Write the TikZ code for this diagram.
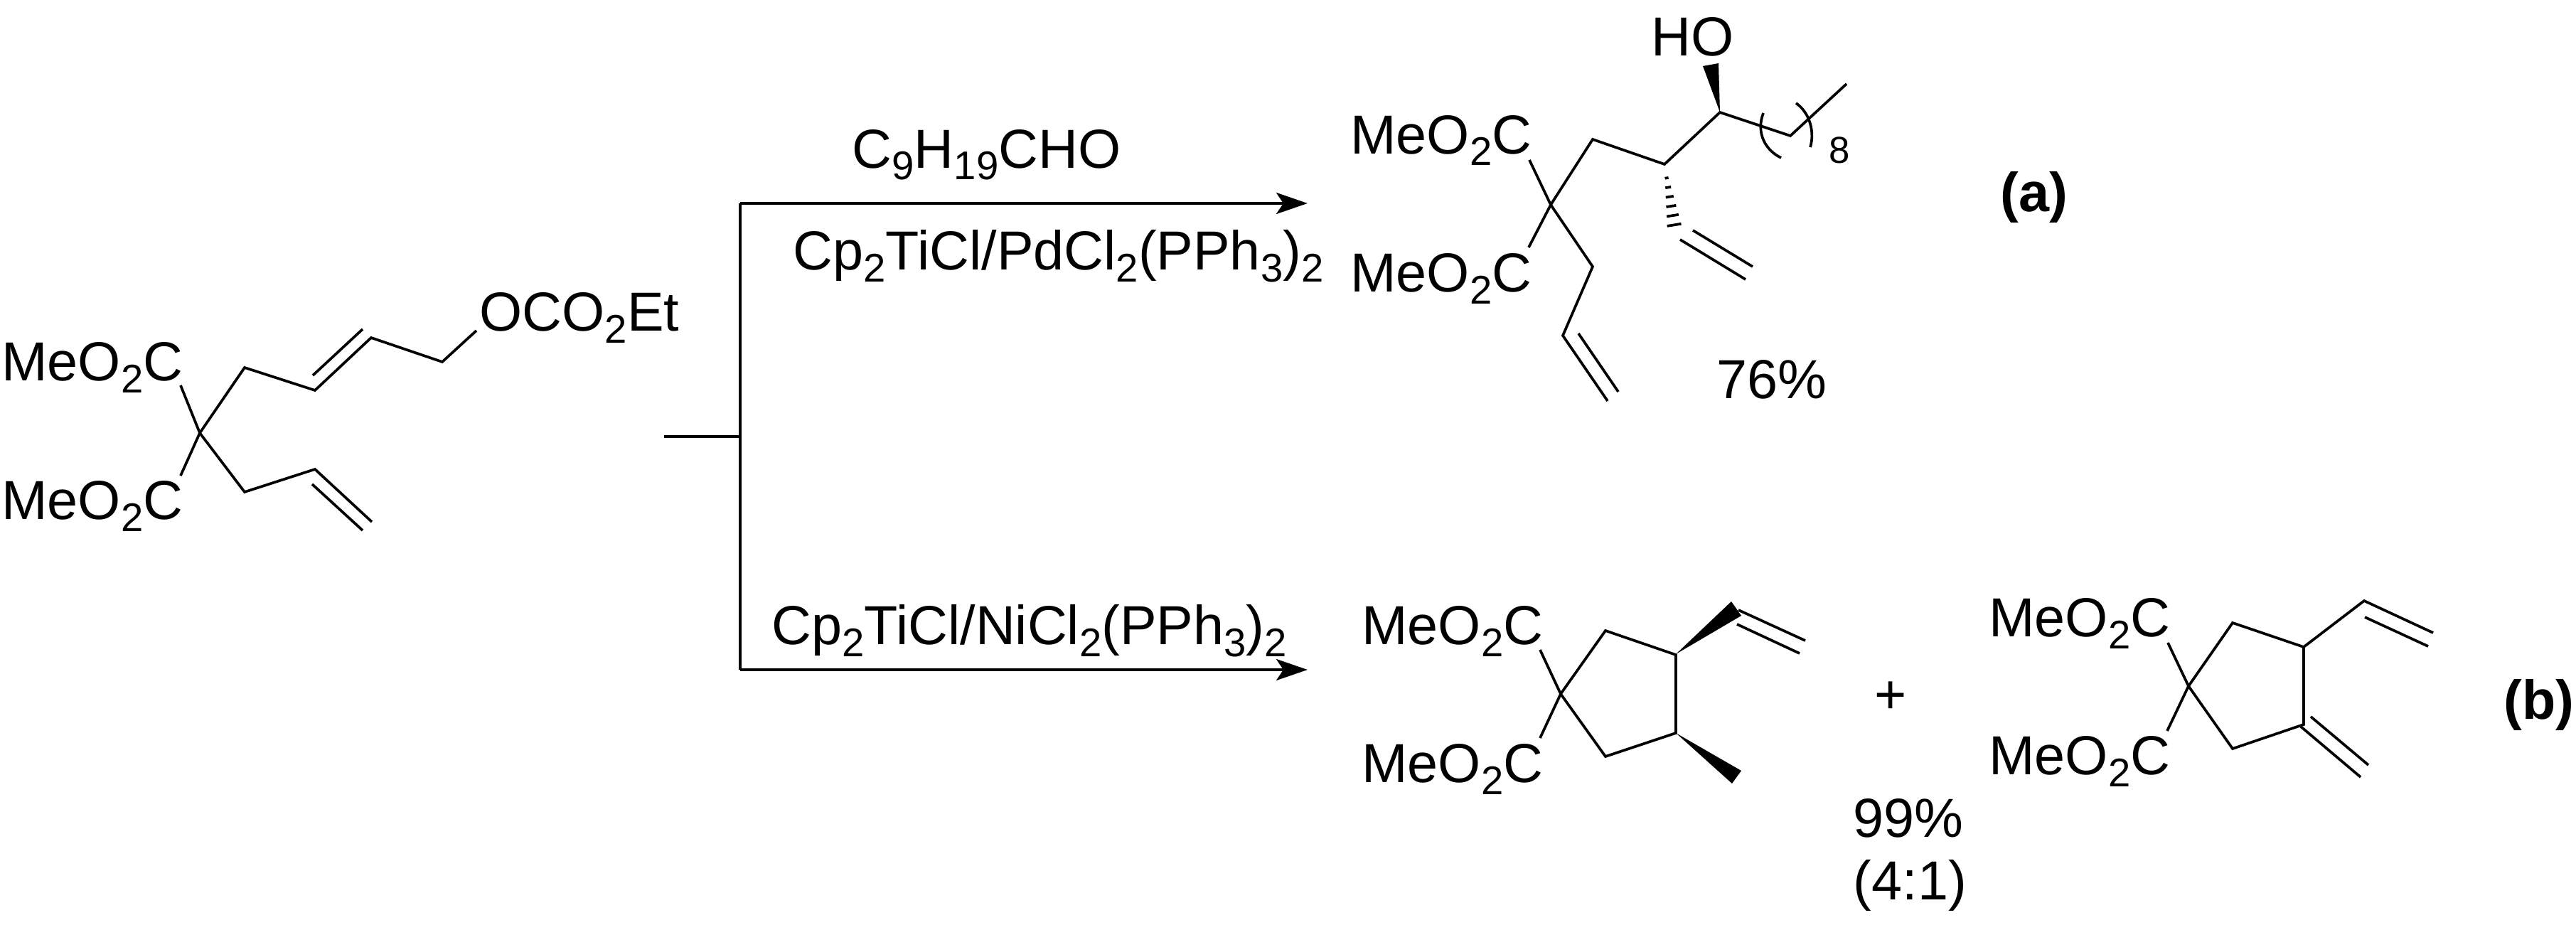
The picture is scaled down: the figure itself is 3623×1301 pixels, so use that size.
\documentclass[tikz,border=0pt]{standalone}
\usepackage{fontspec}
\setmainfont{Liberation Sans}
\usetikzlibrary{arrows.meta}
\newcommand{\chsub}[1]{\raisebox{-0.16cm}{\fontsize{16}{16}\selectfont #1}}
\begin{document}
\begin{tikzpicture}[x=0.01cm,y=-0.01cm,
  bond/.style={line width=1.05pt},
  txt/.style={inner sep=0pt,font=\fontsize{22}{26}\selectfont},
  lbl/.style={inner sep=0pt,font=\fontsize{22}{26}\selectfont\bfseries},
  rxn/.style={line width=1.05pt,-{Stealth[length=0.44cm,width=0.3cm,inset=0.1cm]}}]
\useasboundingbox (0,0) rectangle (3623,1301);

% ---------- starting material ----------
\node[txt,anchor=base east] (sm1) at (258,536) {MeO\chsub{2}C};
\node[txt,anchor=base east] (sm2) at (258,731) {MeO\chsub{2}C};
\node[txt,anchor=base west] (sm3) at (674,466) {OCO\chsub{2}Et};
\coordinate (q) at (281,609);
\draw[bond] (254,542) -- (q) -- (254,669);
\draw[bond] (q) -- (344,517) -- (443,549) -- (522,475) -- (622,509) -- (670,465);
\draw[bond] (440,528) -- (510,463);
\draw[bond] (q) -- (344,692) -- (443,660) -- (523,734);
\draw[bond] (439,681) -- (510,746);

% ---------- arrows ----------
\coordinate (s0) at (934,614);
\coordinate (s1) at (1041,614);
\coordinate (t0) at (1041,286);
\coordinate (b0) at (1041,942);
\coordinate (t1) at (1839,286);
\coordinate (b1) at (1839,942);
\draw[bond] (s0) -- (s1);
\draw[bond] (t0) -- (b0);
\draw[rxn] (t0) -- (t1);
\draw[rxn] (b0) -- (b1);
\node[txt,anchor=base west] (r1) at (1198,237) {C\chsub{9}H\chsub{19}CHO};
\node[txt,anchor=base west] (r2) at (1115,380) {Cp\chsub{2}TiCl/PdCl\chsub{2}(PPh\chsub{3})\chsub{2}};
\node[txt,anchor=base west] (r3) at (1085,907) {Cp\chsub{2}TiCl/NiCl\chsub{2}(PPh\chsub{3})\chsub{2}};

% ---------- product (a) ----------
\node[txt,anchor=base east] (a1) at (2155,217) {MeO\chsub{2}C};
\node[txt,anchor=base east] (a2) at (2155,411) {MeO\chsub{2}C};
\node[txt,anchor=base west] (ho) at (2322,79) {HO};
\coordinate (qa) at (2181,288);
\draw[bond] (2151,225) -- (qa) -- (2150,348);
\draw[bond] (qa) -- (2240,196) -- (2341,231) -- (2419,158) -- (2518,191) -- (2597,118);
\fill (2419,158) -- (2417,89) -- (2395,93) -- cycle;
\foreach \t/\w in {0.22/2.5,0.37/4,0.52/5.5,0.67/7,0.82/8.5,0.97/10}
  \draw[line width=1.05pt] ({2341+14*\t-\w*0.988},{231+88*\t+\w*0.157}) -- ({2341+14*\t+\w*0.988},{231+88*\t-\w*0.157});
\draw[bond] (2363,337) -- (2455,393);
\draw[bond] (2381,324) -- (2465,375);
\draw[bond] (2480,159) .. controls (2469,188) and (2484,212) .. (2505,222);
\draw[bond] (2526,145) .. controls (2547,160) and (2552,188) .. (2546,207);
\node[inner sep=0pt,anchor=base west,font=\fontsize{15}{15}\selectfont] (n8) at (2572,230) {8};
\draw[bond] (qa) -- (2240,375) -- (2198,472) -- (2261,564);
\draw[bond] (2220,469) -- (2276,551);
\node[txt,anchor=base west] (y1) at (2414,561) {76\%};
\node[lbl,anchor=base west] (la) at (2813,298) {(a)};

% ---------- product (b) first ----------
\node[txt,anchor=base east] (b1t) at (2171,907) {MeO\chsub{2}C};
\node[txt,anchor=base east] (b1b) at (2171,1101) {MeO\chsub{2}C};
\coordinate (qb) at (2195,976);
\draw[bond] (2166,914) -- (qb) -- (2166,1038);
\draw[bond,line join=miter] (qb) -- (2258,887) -- (2357,921) -- (2357,1031) -- (2258,1064) -- cycle;
\fill (2357,920) -- (2449,866) -- (2435,846) -- cycle;
\draw[bond] (2445,858) -- (2539,901);
\draw[bond] (2443,878) -- (2531,919);
\fill (2357,1031) -- (2436,1102) -- (2449,1084) -- cycle;
\node[txt] (plus) at (2659,981) {+};
\node[txt,anchor=base west] (y2) at (2606,1178) {99\%};
\node[txt,anchor=base west] (y3) at (2606,1266) {(4:1)};

% ---------- product (b) second ----------
\node[txt,anchor=base east] (b2t) at (3053,896) {MeO\chsub{2}C};
\node[txt,anchor=base east] (b2b) at (3053,1090) {MeO\chsub{2}C};
\coordinate (qc) at (3078,965);
\draw[bond] (3049,904) -- (qc) -- (3048,1028);
\draw[bond,line join=miter] (qc) -- (3140,876) -- (3240,910) -- (3240,1019) -- (3140,1053) -- cycle;
\draw[bond] (3240,910) -- (3325,845) -- (3422,890);
\draw[bond] (3326,868) -- (3415,909);
\draw[bond] (3236,1022) -- (3320,1093);
\draw[bond] (3250,1008) -- (3331,1076);
\node[lbl,anchor=base west] (lb) at (3521,1012) {(b)};
\end{tikzpicture}
\end{document}
